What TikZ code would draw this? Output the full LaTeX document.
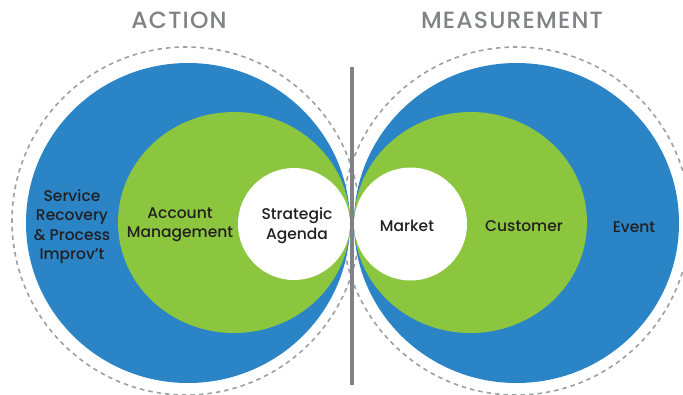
\documentclass[tikz,border=0pt]{standalone}
\usepackage{fontspec}
\setmainfont{Poppins}[UprightFont={* Medium}]
\newfontfamily\titlefont{Poppins}[UprightFont={* Medium}, LetterSpace=5]
\definecolor{cblue}{HTML}{2A84C6}
\definecolor{cgreen}{HTML}{8CC63F}
\definecolor{cgray}{HTML}{808285}
\definecolor{cdash}{HTML}{9D9FA2}
\definecolor{ctext}{HTML}{231F20}
\begin{document}
\begin{tikzpicture}[x=1pt,y=-1pt,
  lbl/.style={font=\fontsize{15.5}{19.5}\selectfont, text=ctext, align=center, inner sep=0pt},
  ttl/.style={font=\titlefont\fontsize{23.5}{26}\selectfont, text=cgray, inner sep=0pt},
  dashring/.style={draw=cdash, line width=1.6pt, dash pattern=on 4.5pt off 4pt},
  divider/.style={draw=cgray, line width=3.5pt}]
\useasboundingbox (0,0) rectangle (683,394);
% dashed outer rings
\draw[dashring] (186,221) circle[radius=174pt];
\draw[dashring] (516,221) circle[radius=174pt];
% left set
\fill[cblue] (188,223) ellipse[x radius=162pt, y radius=160pt];
\fill[cgreen] (234,222.5) ellipse[x radius=116pt, y radius=110.5pt];
\fill[white] (294,224) circle[radius=56pt];
% right set
\fill[cblue] (516.5,223) ellipse[x radius=162.5pt, y radius=160pt];
\fill[cgreen] (470.5,222.5) ellipse[x radius=116.5pt, y radius=110.5pt];
\fill[white] (410.5,224) circle[radius=56.5pt];
% divider
\coordinate (divtop) at (352,67);
\coordinate (divbot) at (352,385);
\draw[divider] (divtop) -- (divbot);
% titles
\node[ttl] (action) at (179,20) {ACTION};
\node[ttl] (measure) at (512,20) {MEASUREMENT};
% labels
\node[lbl] (service) at (72,226.5) {Service\\Recovery\\\& Process\\Improv’t};
\node[lbl] (account) at (180,224.5) {Account\\Management};
\node[lbl] (strategic) at (297,225.5) {Strategic\\Agenda};
\node[lbl] (market) at (407,226) {Market};
\node[lbl] (customer) at (524,226) {Customer};
\node[lbl] (event) at (634,227) {Event};
\end{tikzpicture}
\end{document}
